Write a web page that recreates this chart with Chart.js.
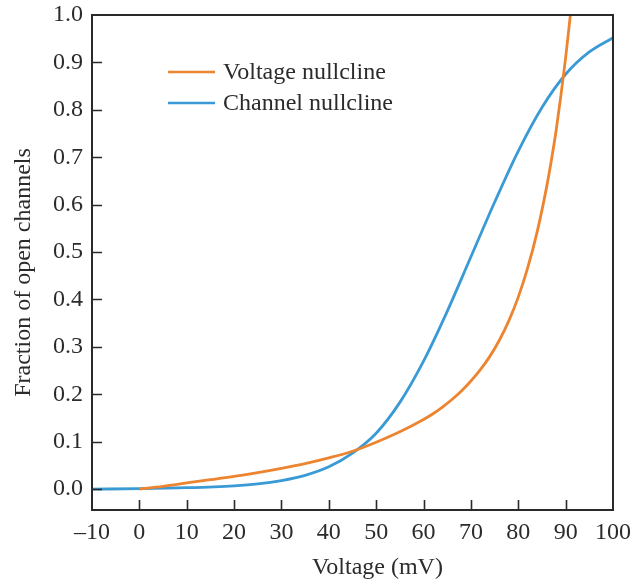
<!DOCTYPE html>
<html>
<head>
<meta charset="utf-8">
<script src="https://cdn.jsdelivr.net/npm/chart.js@4/dist/chart.umd.min.js"></script>
<style>
  html, body { margin: 0; padding: 0; background: #fff; }
  #wrap { width: 641px; height: 586px; position: relative; }
</style>
</head>
<body>
<div id="wrap"><canvas id="c" width="641" height="586"></canvas></div>
<script>
// ---- Data ----
const voltageNullclineX = [0, 5, 10, 15, 20, 25, 30, 35, 40, 45, 50, 55, 60, 62, 64, 66, 68, 70, 72, 74, 76, 78, 80, 82, 84, 86, 87, 88, 89, 90, 91];
const voltageNullclineY = [0, 0.006, 0.013, 0.02, 0.027, 0.035, 0.044, 0.054, 0.066, 0.08, 0.099, 0.121, 0.147, 0.159, 0.173, 0.189, 0.207, 0.228, 0.252, 0.28, 0.314, 0.355, 0.405, 0.467, 0.543, 0.638, 0.694, 0.757, 0.83, 0.91, 1.0];

const channelNullclineX = [-10, 0, 10, 20, 25, 30, 35, 40, 45, 50, 55, 60, 65, 70, 75, 80, 85, 90, 95, 100];
const channelNullclineY = [0.0, 0.001, 0.003, 0.007, 0.011, 0.018, 0.029, 0.047, 0.076, 0.118, 0.183, 0.27, 0.375, 0.49, 0.605, 0.713, 0.805, 0.875, 0.922, 0.952];

const seriesLabels = ['Voltage nullcline', 'Channel nullcline'];
const xTickValues = [-10, 0, 10, 20, 30, 40, 50, 60, 70, 80, 90, 100];
const yTickValues = [0.0, 0.1, 0.2, 0.3, 0.4, 0.5, 0.6, 0.7, 0.8, 0.9, 1.0];
const xTitle = 'Voltage (mV)';
const yTitle = 'Fraction of open channels';

// ---- Styling ----
const FONT = '"Liberation Serif", "DejaVu Serif", serif';
const TEXT = '#2b2b2b';
const ORANGE = '#EC8430';
const BLUE = '#3A9AD5';
const AXIS = '#2a2a2a';

const toPts = (xs, ys) => xs.map((x, i) => ({x: x, y: ys[i]}));

const framePlugin = {
  id: 'frame',
  afterDraw(chart) {
    const ctx = chart.ctx;
    const a = chart.chartArea;
    const xs = chart.scales.x, ys = chart.scales.y;
    ctx.save();
    // inward ticks
    ctx.strokeStyle = AXIS;
    ctx.lineWidth = 1.6;
    ctx.beginPath();
    xTickValues.forEach(v => {
      const px = Math.round(xs.getPixelForValue(v)) + 0.5;
      if (px > a.left + 1 && px < a.right - 1) {
        ctx.moveTo(px, a.bottom);
        ctx.lineTo(px, a.bottom - 10);
      }
    });
    yTickValues.forEach(v => {
      const py = Math.round(ys.getPixelForValue(v)) + 0.5;
      if (py > a.top + 1 && py < a.bottom - 1) {
        ctx.moveTo(a.left, py);
        ctx.lineTo(a.left + 10, py);
      }
    });
    ctx.stroke();
    // frame
    ctx.lineWidth = 2;
    ctx.strokeRect(a.left, a.top, a.right - a.left, a.bottom - a.top);
    // axis titles
    ctx.fillStyle = TEXT;
    ctx.font = '24px ' + FONT;
    ctx.textAlign = 'center';
    ctx.textBaseline = 'middle';
    ctx.fillText(xTitle, (a.left + a.right) / 2 + 25, 568);
    ctx.translate(24, (a.top + a.bottom) / 2 + 10);
    ctx.rotate(-Math.PI / 2);
    ctx.fillText(yTitle, 0, 0);
    ctx.restore();
    // legend
    ctx.save();
    ctx.font = '24px ' + FONT;
    ctx.textBaseline = 'middle';
    ctx.textAlign = 'left';
    chart.data.datasets.forEach((ds, i) => {
      const y = 72 + i * 31;
      ctx.strokeStyle = ds.borderColor;
      ctx.lineWidth = 2.6;
      ctx.beginPath();
      ctx.moveTo(168, y);
      ctx.lineTo(215, y);
      ctx.stroke();
      ctx.fillStyle = TEXT;
      ctx.fillText(ds.label, 223, y + 1);
    });
    ctx.restore();
  }
};

new Chart(document.getElementById('c'), {
  type: 'line',
  data: {
    datasets: [
      {
        label: seriesLabels[0],
        data: toPts(voltageNullclineX, voltageNullclineY),
        borderColor: ORANGE,
        borderWidth: 2.8,
        pointRadius: 0,
        cubicInterpolationMode: 'monotone',
        fill: false
      },
      {
        label: seriesLabels[1],
        data: toPts(channelNullclineX, channelNullclineY),
        borderColor: BLUE,
        borderWidth: 2.8,
        pointRadius: 0,
        cubicInterpolationMode: 'monotone',
        fill: false
      }
    ]
  },
  options: {
    responsive: false,
    animation: false,
    layout: { padding: { top: 15, right: 28, left: 0, bottom: 0 } },
    plugins: { legend: { display: false }, tooltip: { enabled: false } },
    scales: {
      x: {
        type: 'linear',
        min: -10,
        max: 100,
        afterFit(s) { s.height = 76; },
        afterBuildTicks(s) { s.ticks = xTickValues.map(v => ({value: v})); },
        grid: { display: false, drawTicks: false },
        border: { display: false },
        ticks: {
          color: TEXT,
          font: { family: FONT, size: 24 },
          padding: 8,
          maxRotation: 0,
          autoSkip: false,
          callback: v => v < 0 ? '\u2013' + Math.abs(v) : String(v)
        }
      },
      y: {
        type: 'linear',
        min: -0.044,
        max: 1.0,
        afterFit(s) { s.width = 92; },
        afterBuildTicks(s) { s.ticks = yTickValues.map(v => ({value: v})); },
        grid: { display: false, drawTicks: false },
        border: { display: false },
        ticks: {
          color: TEXT,
          font: { family: FONT, size: 24, lineHeight: 0.5 },
          padding: 9,
          autoSkip: false,
          callback: v => Number(v).toFixed(1)
        }
      }
    }
  },
  plugins: [framePlugin]
});
</script>
</body>
</html>
